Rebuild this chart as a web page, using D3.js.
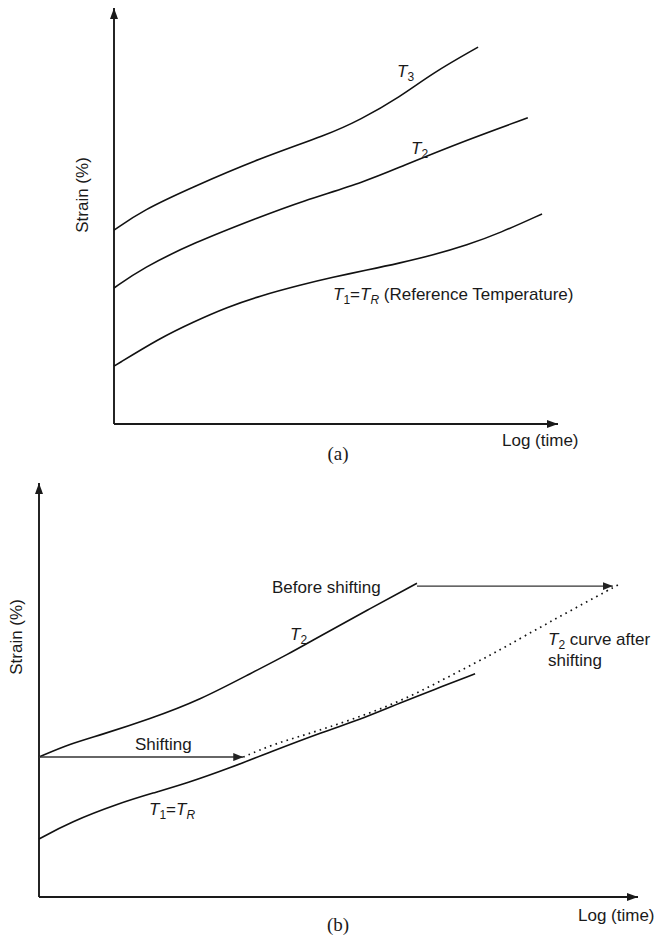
<!DOCTYPE html>
<html>
<head>
<meta charset="utf-8">
<script src="https://cdn.jsdelivr.net/npm/d3@7"></script>
<style>
  html, body { margin: 0; padding: 0; background: #fff; }
  svg { display: block; }
  text { font-family: "Liberation Sans", Arial, Helvetica, sans-serif; fill: #1a1a1a; }
</style>
</head>
<body>
<svg id="chart" width="655" height="945"></svg>
<script>
// ---------- DATA (arbitrary units: log time 0-100, strain 0-100) ----------
// Panel (a)
const T1a = [[0,13.9],[10.4,20.7],[17.8,24.5],[25.5,28.1],[32.9,30.8],[41.9,33.4],[49.3,35.3],[57.0,37.0],[64.4,38.7],[71.8,40.6],[79.5,43.0],[86.9,45.9],[96.4,50.5]];
const T2a = [[0,32.7],[6.5,37.5],[17.8,43.5],[32.9,49.8],[41.9,53.4],[57.0,58.4],[64.4,61.8],[79.5,68.3],[93.2,73.6]];
const T3a = [[0,46.6],[6.5,51.4],[17.8,57.0],[32.9,63.9],[48.0,69.5],[55.4,73.1],[64.4,78.6],[71.8,84.4],[82.0,90.6]];
// Panel (b)
const T1b = [[0,14.0],[5.2,18.1],[13.5,22.7],[19.0,25.1],[24.7,27.5],[31.9,31.2],[38.6,35.0],[46.9,39.6],[54.8,43.5],[60.3,46.9],[65.8,50.0],[72.8,53.9]];
const T2b = [[0,33.8],[5.2,37.0],[10.2,39.1],[18.5,43.0],[26.9,47.6],[35.7,54.3],[41.4,58.5],[46.9,63.0],[54.8,69.3],[63.1,75.8]];
const shiftAmount = 34.1;             // horizontal shift of T2 along log(time)
const shiftArrows = [
  { x0: 0,    x1: 34.1, y: 33.8 },    // "Shifting"
  { x0: 63.1, x1: 95.8, y: 75.1 }     // from "Before shifting" end
];
const axisLabels = { x: "Log (time)", y: "Strain (%)" };
const panelLabels = ["(a)", "(b)"];

// ---------- SETUP ----------
const svg = d3.select("#chart");
svg.append("rect").attr("width", 655).attr("height", 945).attr("fill", "#fff");

const defs = svg.append("defs");
function marker(id, w, h, color) {
  defs.append("marker")
    .attr("id", id)
    .attr("markerUnits", "userSpaceOnUse")
    .attr("viewBox", `0 0 ${w} ${h}`)
    .attr("markerWidth", w).attr("markerHeight", h)
    .attr("refX", w).attr("refY", h / 2)
    .attr("orient", "auto")
    .append("path")
    .attr("d", `M0,0L${w},${h/2}L0,${h}Z`)
    .attr("fill", color);
}
marker("axisArrow", 11, 8, "#1a1a1a");
marker("shiftArrow", 10, 8, "#222");

const FS = 17;

function drawAxes(g, x, y) {
  const xAxis = g.append("g").attr("transform", `translate(0,${y(0)})`)
    .call(d3.axisBottom(x).tickValues([]).tickSizeOuter(0));
  xAxis.select(".domain")
    .attr("d", `M${x(0)},0H${x(100)}`)
    .attr("stroke", "#1a1a1a").attr("stroke-width", 1.9)
    .attr("marker-end", "url(#axisArrow)");
  const yAxis = g.append("g").attr("transform", `translate(${x(0)},0)`)
    .call(d3.axisLeft(y).tickValues([]).tickSizeOuter(0));
  yAxis.select(".domain")
    .attr("d", `M0,${y(0)}V${y(100)}`)
    .attr("stroke", "#1a1a1a").attr("stroke-width", 1.9)
    .attr("marker-end", "url(#axisArrow)");
}

function curve(g, line, data, dotted) {
  const p = g.append("path").datum(data)
    .attr("d", line)
    .attr("fill", "none")
    .attr("stroke", "#111")
    .attr("stroke-width", dotted ? 1.7 : 1.6);
  if (dotted) p.attr("stroke-dasharray", "1.6 4.2");
  return p;
}

// T label with subscript: parts = [[text, italic, sub], ...]
function richText(g, xPos, yPos, parts) {
  const t = g.append("text").attr("x", xPos).attr("y", yPos).attr("font-size", FS);
  let wasSub = false;
  parts.forEach(([s, italic, sub]) => {
    const ts = t.append("tspan").text(s);
    if (italic) ts.attr("font-style", "italic");
    if (sub) ts.attr("font-size", 12);
    if (sub && !wasSub) ts.attr("dy", 4);
    if (!sub && wasSub) ts.attr("dy", -4);
    wasSub = !!sub;
  });
  return t;
}

// ---------- PANEL (a) ----------
{
  const g = svg.append("g");
  const x = d3.scaleLinear().domain([0, 100]).range([114, 558]);
  const y = d3.scaleLinear().domain([0, 100]).range([424, 8]);
  const line = d3.line().x(d => x(d[0])).y(d => y(d[1])).curve(d3.curveBasis);

  drawAxes(g, x, y);
  [T1a, T2a, T3a].forEach(s => curve(g, line, s, false));

  richText(g, 397, 77, [["T", true, false], ["3", false, true]]);
  richText(g, 411, 154, [["T", true, false], ["2", false, true]]);
  richText(g, 333, 300, [["T", true, false], ["1", false, true], ["=", false, false],
                         ["T", true, false], ["R", true, true], [" (Reference Temperature)", false, false]]);

  g.append("text").attr("x", 502).attr("y", 446).attr("font-size", FS).text(axisLabels.x);
  g.append("text").attr("transform", "translate(88,195) rotate(-90)")
    .attr("text-anchor", "middle").attr("font-size", FS).text(axisLabels.y);
  g.append("text").attr("x", 338).attr("y", 460).attr("text-anchor", "middle")
    .style("font-family", "'Liberation Serif', 'Times New Roman', serif")
    .attr("font-size", 19).text(panelLabels[0]);
}

// ---------- PANEL (b) ----------
{
  const g = svg.append("g");
  const x = d3.scaleLinear().domain([0, 100]).range([39, 638]);
  const y = d3.scaleLinear().domain([0, 100]).range([897, 483]);
  const line = d3.line().x(d => x(d[0])).y(d => y(d[1])).curve(d3.curveBasis);

  drawAxes(g, x, y);
  curve(g, line, T1b, false);
  curve(g, line, T2b, false);
  curve(g, line, T2b.map(d => [d[0] + shiftAmount, d[1]]), true);

  shiftArrows.forEach(a => {
    g.append("line")
      .attr("x1", x(a.x0)).attr("x2", x(a.x1))
      .attr("y1", y(a.y)).attr("y2", y(a.y))
      .attr("stroke", "#333").attr("stroke-width", 1.4)
      .attr("marker-end", "url(#shiftArrow)");
  });

  g.append("text").attr("x", 272).attr("y", 593).attr("font-size", FS).text("Before shifting");
  richText(g, 290, 640, [["T", true, false], ["2", false, true]]);
  g.append("text").attr("x", 135).attr("y", 750).attr("font-size", FS).text("Shifting");
  richText(g, 149, 815, [["T", true, false], ["1", false, true], ["=", false, false],
                         ["T", true, false], ["R", true, true]]);
  richText(g, 548, 645, [["T", true, false], ["2", false, true], [" curve after", false, false]]);
  g.append("text").attr("x", 548).attr("y", 666).attr("font-size", FS).text("shifting");

  g.append("text").attr("x", 578).attr("y", 921).attr("font-size", FS).text(axisLabels.x);
  g.append("text").attr("transform", "translate(22,637) rotate(-90)")
    .attr("text-anchor", "middle").attr("font-size", FS).text(axisLabels.y);
  g.append("text").attr("x", 338).attr("y", 931).attr("text-anchor", "middle")
    .style("font-family", "'Liberation Serif', 'Times New Roman', serif")
    .attr("font-size", 19).text(panelLabels[1]);
}
</script>
</body>
</html>
